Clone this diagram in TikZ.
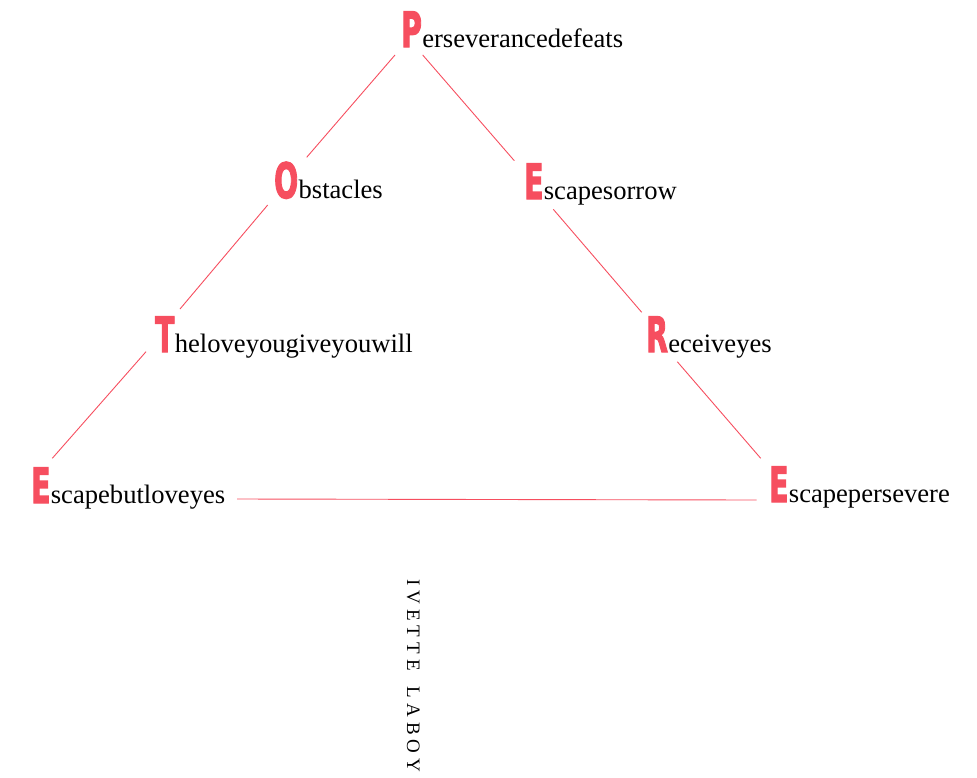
\documentclass[tikz,border=0pt]{standalone}
\usepackage{fontspec}
\usepackage{graphicx}
\setmainfont{Liberation Serif}
\newfontfamily\capfont{DejaVu Sans}[BoldFeatures={FakeBold=3}]
\definecolor{acc}{RGB}{246,78,95}
\newcommand\lsp[1]{#1\kern5pt}
\newcommand\capl[1]{\scalebox{0.58}[1]{#1}}
\tikzset{
  capletter/.style={anchor=base west, inner sep=0pt, text=acc, font=\capfont\bfseries\fontsize{48.7}{50}\selectfont},
  word/.style={anchor=base west, inner sep=0pt, font=\fontsize{26.6}{28}\selectfont},
  link/.style={draw=acc, line width=0.9pt},
  byline/.style={anchor=base west, inner sep=0pt, rotate=-90, font=\fontsize{19}{19}\selectfont}
}
\begin{document}
\begin{tikzpicture}[x=1pt,y=-1pt]
\useasboundingbox (0,0) rectangle (977,777);
% nodes
\node[capletter] (P) at (401,47) {\capl{P}};
\node[word] (Pw) at (P.base east) {erseverancedefeats};
\node[capletter] (O) at (274,198) {\capl{O}};
\node[word] (Ow) at (O.base east) {bstacles};
\node[capletter] (E1) at (524,199) {\capl{E}};
\node[word] (E1w) at (E1.base east) {scapesorrow};
\node[capletter] (T) at (155,352) {\capl{T}};
\node[word] (Tw) at (T.base east) {heloveyougiveyouwill};
\node[capletter] (R) at (646,352) {\capl{R}};
\node[word] (Rw) at (R.base east) {eceiveyes};
\node[capletter] (E2) at (31,503) {\capl{E}};
\node[word] (E2w) at (E2.base east) {scapebutloveyes};
\node[capletter] (E3) at (769,502) {\capl{E}};
\node[word] (E3w) at (E3.base east) {scapepersevere};
\node[byline] (author) at (407,579) {\lsp{I}\lsp{V}\lsp{E}\lsp{T}\lsp{T}E\kern16pt\lsp{L}\lsp{A}\lsp{B}\lsp{O}Y};
% connector ends
\coordinate (a1) at (395,55);    \coordinate (a2) at (306.7,157.3);
\coordinate (b1) at (422.7,55);  \coordinate (b2) at (514.3,160.7);
\coordinate (c1) at (267.7,205); \coordinate (c2) at (180,309);
\coordinate (d1) at (553.3,209.3); \coordinate (d2) at (641.7,312.3);
\coordinate (e1) at (146,351.7); \coordinate (e2) at (52.3,458.3);
\coordinate (f1) at (677.3,361.7); \coordinate (f2) at (760.7,458.3);
\coordinate (g1) at (237,499);   \coordinate (g2) at (756.7,500);
\draw[link] (a1) -- (a2);
\draw[link] (b1) -- (b2);
\draw[link] (c1) -- (c2);
\draw[link] (d1) -- (d2);
\draw[link] (e1) -- (e2);
\draw[link] (f1) -- (f2);
\draw[link] (g1) -- (g2);
\end{tikzpicture}
\end{document}
